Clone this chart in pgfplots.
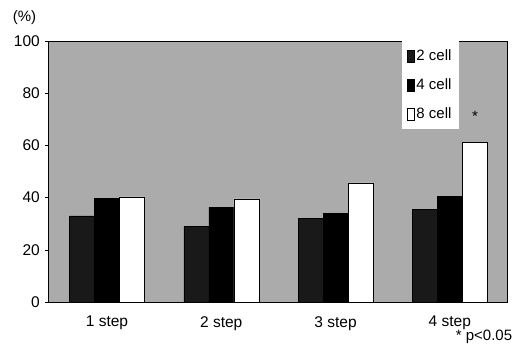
\documentclass[border=0pt]{standalone}
\usepackage{fontspec}
\setmainfont{Liberation Sans}
\usepackage{pgfplots}
\pgfplotsset{compat=1.18}
\begin{document}
\fontsize{15}{18}\selectfont
\begin{tikzpicture}
\useasboundingbox (-48pt,-47pt) rectangle (473pt,302pt);
\begin{axis}[
  at={(0pt,0pt)}, anchor=south west,
  width=459pt, height=261pt, scale only axis,
  ybar=0pt, bar width=25pt,
  xmin=-0.516, xmax=3.5,
  ymin=0, ymax=100,
  ytick={0,20,40,60,80,100},
  xtick={0,1,2,3},
  xticklabels={1 step,2 step,3 step,4 step},
  xtick style={draw=none},
  ytick style={black, thin},
  tick align=outside,
  tick pos=left,
  major tick length=3pt,
  xticklabel style={yshift=-6pt},
  /pgf/number format/assume math mode=true,
  ticklabel style={font=\fontsize{15.5}{18}\selectfont},
  axis background/.style={fill=black!33},
  axis line style={black, thin},
  legend style={at={(rel axis cs:0.771,1)}, anchor=north west,
    draw=none, fill=white, font=\fontsize{15}{18}\selectfont,
    row sep=12pt, inner xsep=5pt, inner ysep=6pt, cells={anchor=west}},
  legend image code/.code={\draw[#1] (0pt,-6pt) rectangle (7pt,6pt);},
]
\addplot[fill=black!90, draw=black] coordinates {(0,33) (1,29) (2,32) (3,35.6)};
\addplot[fill=black, draw=black] coordinates {(0,39.8) (1,36.4) (2,34) (3,40.6)};
\addplot[fill=white, draw=black] coordinates {(0,40.3) (1,39.5) (2,45.6) (3,61.3)};
\legend{2 cell,4 cell,8 cell}
\node at (axis cs:3.22,71) {*};
\end{axis}
\node at (-23.5pt,284.5pt) {(\%)};
\node at (436pt,-35pt) {* p<0.05};
\end{tikzpicture}
\end{document}
